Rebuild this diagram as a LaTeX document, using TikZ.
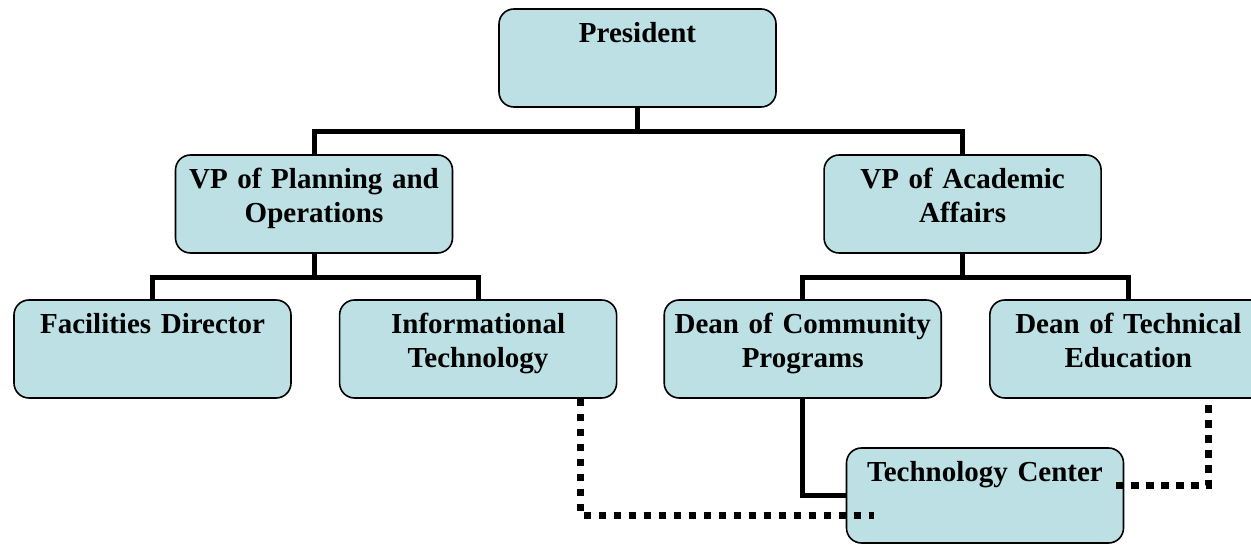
\documentclass[tikz,border=0pt]{standalone}
\usepackage{fontspec}
\setmainfont{Liberation Serif}
\usepackage{tikz}
\usepackage{xcolor}
\usetikzlibrary{positioning}

\definecolor{boxfill}{RGB}{188,224,228}

\begin{document}
\begin{tikzpicture}
[
x=1pt, y=-1pt,
box/.style={draw, line width=1.6pt, rounded corners=15pt, fill=boxfill,
            minimum width=277pt, text width=272pt, inner xsep=0pt, inner ysep=0pt,
            align=center, text height=34pt, text depth=64pt,
            font=\fontsize{29}{34}\selectfont\bfseries},
tree/.style={line width=5pt},
dotted-link/.style={line width=7.5pt, dash pattern=on 7.5pt off 7.5pt}
]

\useasboundingbox (0,0) rectangle (1251,545);

\node (president)   [box] at (637.5,58)                {President};
\node (vp-plan)     [box] at (314,204)                 {VP of Planning and\\Operations};
\node (vp-acad)     [box, right = 370pt of vp-plan]    {VP of Academic\\Affairs};
\node (facilities)  [box] at (152.5,349)               {Facilities Director};
\node (info-tech)   [box, right = 47pt of facilities]  {Informational\\Technology};
\node (dean-comm)   [box, right = 46pt of info-tech]   {Dean of Community\\Programs};
\node (dean-tech)   [box, right = 47pt of dean-comm]   {Dean of Technical\\Education};
\node (tech-center) [box, text height=33pt, text depth=62pt] at (985,495.5) {Technology Center};

\draw [tree] (president.south) -- ++(0,24);
\draw [tree] (vp-plan.north) |- ([yshift=-24pt]president.south) -| (vp-acad.north);
\draw [tree] (vp-plan.south) -- ++(0,24);
\draw [tree] (facilities.north) |- ([yshift=-24pt]vp-plan.south) -| (info-tech.north);
\draw [tree] (vp-acad.south) -- ++(0,24);
\draw [tree] (dean-comm.north) |- ([yshift=-24pt]vp-acad.south) -| (dean-tech.north);
\draw [tree] (dean-comm.south) |- (tech-center.west);
\draw [dotted-link] ([xshift=-37pt]info-tech.south east) |- ([xshift=28pt,yshift=-20pt]tech-center.west);
\draw [dotted-link] ([xshift=-8pt,yshift=10pt]tech-center.east) -| ([xshift=80pt]dean-tech.south);

\end{tikzpicture}
\end{document}
